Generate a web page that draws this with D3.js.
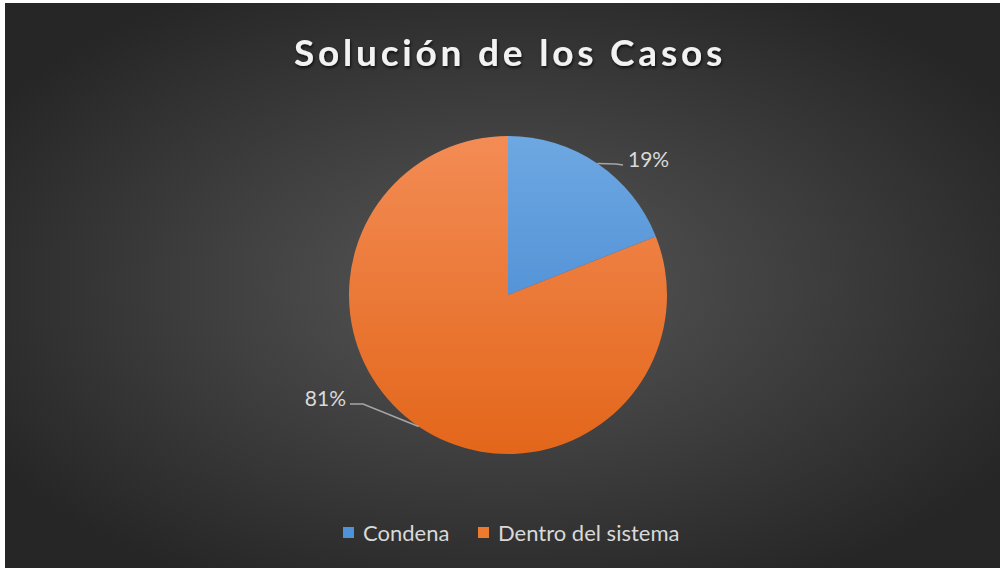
<!DOCTYPE html>
<meta charset="utf-8">
<style>
    body{ margin:0; background:#fff; }
    text{ font-family: Lato, "Open Sans", sans-serif; }
</style>
<script src="https://d3js.org/d3.v7.min.js"></script>
<div id="chart"></div>
<script>
// data
var categories = ["Condena", "Dentro del sistema"];
var values = [19, 81];
var labels = ["19%", "81%"];
var title = "Solución de los Casos";

var W = 1002, H = 571;
var box = {x: 5, y: 3, w: 995, h: 565};
var cx = 508, cy = 295, r = 159;

var svg = d3.select("#chart").append("svg")
    .attr("width", W).attr("height", H);

var defs = svg.append("defs");

// background
var bg = defs.append("radialGradient").attr("id", "bg")
    .attr("cx", "50%").attr("cy", "50%").attr("r", "60%");
bg.append("stop").attr("offset", "0%").attr("stop-color", "#575757");
bg.append("stop").attr("offset", "100%").attr("stop-color", "#262626");

// slice gradients (local coords of the pie group)
var gBlue = defs.append("linearGradient").attr("id", "gBlue")
    .attr("gradientUnits", "userSpaceOnUse")
    .attr("x1", 0).attr("y1", -r).attr("x2", 0).attr("y2", r);
gBlue.append("stop").attr("offset", "0%").attr("stop-color", "#6ea8e2");
gBlue.append("stop").attr("offset", "100%").attr("stop-color", "#3a7fcd");

var gOr = defs.append("linearGradient").attr("id", "gOr")
    .attr("gradientUnits", "userSpaceOnUse")
    .attr("x1", 0).attr("y1", -r).attr("x2", 0).attr("y2", r);
gOr.append("stop").attr("offset", "0%").attr("stop-color", "#f38c55");
gOr.append("stop").attr("offset", "100%").attr("stop-color", "#e3661a");

var shadow = defs.append("filter").attr("id", "tshadow")
    .attr("x", "-10%").attr("y", "-30%").attr("width", "120%").attr("height", "160%");
shadow.append("feDropShadow").attr("dx", 1).attr("dy", 2).attr("stdDeviation", 1.5)
    .attr("flood-color", "#000").attr("flood-opacity", 0.7);

svg.append("rect")
    .attr("x", box.x).attr("y", box.y).attr("width", box.w).attr("height", box.h)
    .attr("fill", "url(#bg)");

// title
svg.append("text")
    .attr("x", cx + 2).attr("y", 66)
    .attr("text-anchor", "middle")
    .style("font-size", "37px").style("font-weight", "bold")
    .style("letter-spacing", "3.8px")
    .attr("fill", "#f2f2f2")
    .attr("filter", "url(#tshadow)")
    .text(title);

var fills = ["url(#gBlue)", "url(#gOr)"];
var legendColors = ["#4f92d8", "#ee7a30"];

var pie = d3.pie().sort(null).value(function(d){ return d; });
var arcs = pie(values);
var arc = d3.arc().innerRadius(0).outerRadius(r);

var g = svg.append("g").attr("transform", "translate(" + cx + "," + cy + ")");
g.selectAll("path.slice")
    .data(arcs)
    .join("path")
    .attr("class", "slice")
    .attr("d", arc)
    .attr("fill", function(d, i){ return fills[i]; });

// leader lines and labels (start at slice mid-angle on the rim)
var leaders = [
    {pts: [[108, -131], [115, -130]], tx: 120, ty: -128, anchor: "start"},
    {pts: [[-145, 109], [-158, 109]], tx: -162, ty: 111, anchor: "end"}
];
arcs.forEach(function(d, i){
    var a = (d.startAngle + d.endAngle) / 2;
    var p0 = [Math.sin(a) * r, -Math.cos(a) * r];
    var pts = [p0].concat(leaders[i].pts);
    g.append("path")
        .attr("d", d3.line()(pts))
        .attr("fill", "none")
        .attr("stroke", "#a6a6a6")
        .attr("stroke-width", 1.5);
    g.append("text")
        .attr("x", leaders[i].tx).attr("y", leaders[i].ty)
        .attr("text-anchor", leaders[i].anchor)
        .style("font-size", "21px")
        .attr("fill", "#d9d9d9")
        .text(labels[i]);
});

// legend
var legendX = [343, 478];
var leg = svg.append("g");
categories.forEach(function(c, i){
    leg.append("rect")
        .attr("x", legendX[i]).attr("y", 527).attr("width", 11).attr("height", 11)
        .attr("fill", legendColors[i]);
    leg.append("text")
        .attr("x", legendX[i] + 20).attr("y", 541)
        .style("font-size", "22px")
        .attr("fill", "#d9d9d9")
        .text(c);
});
</script>
